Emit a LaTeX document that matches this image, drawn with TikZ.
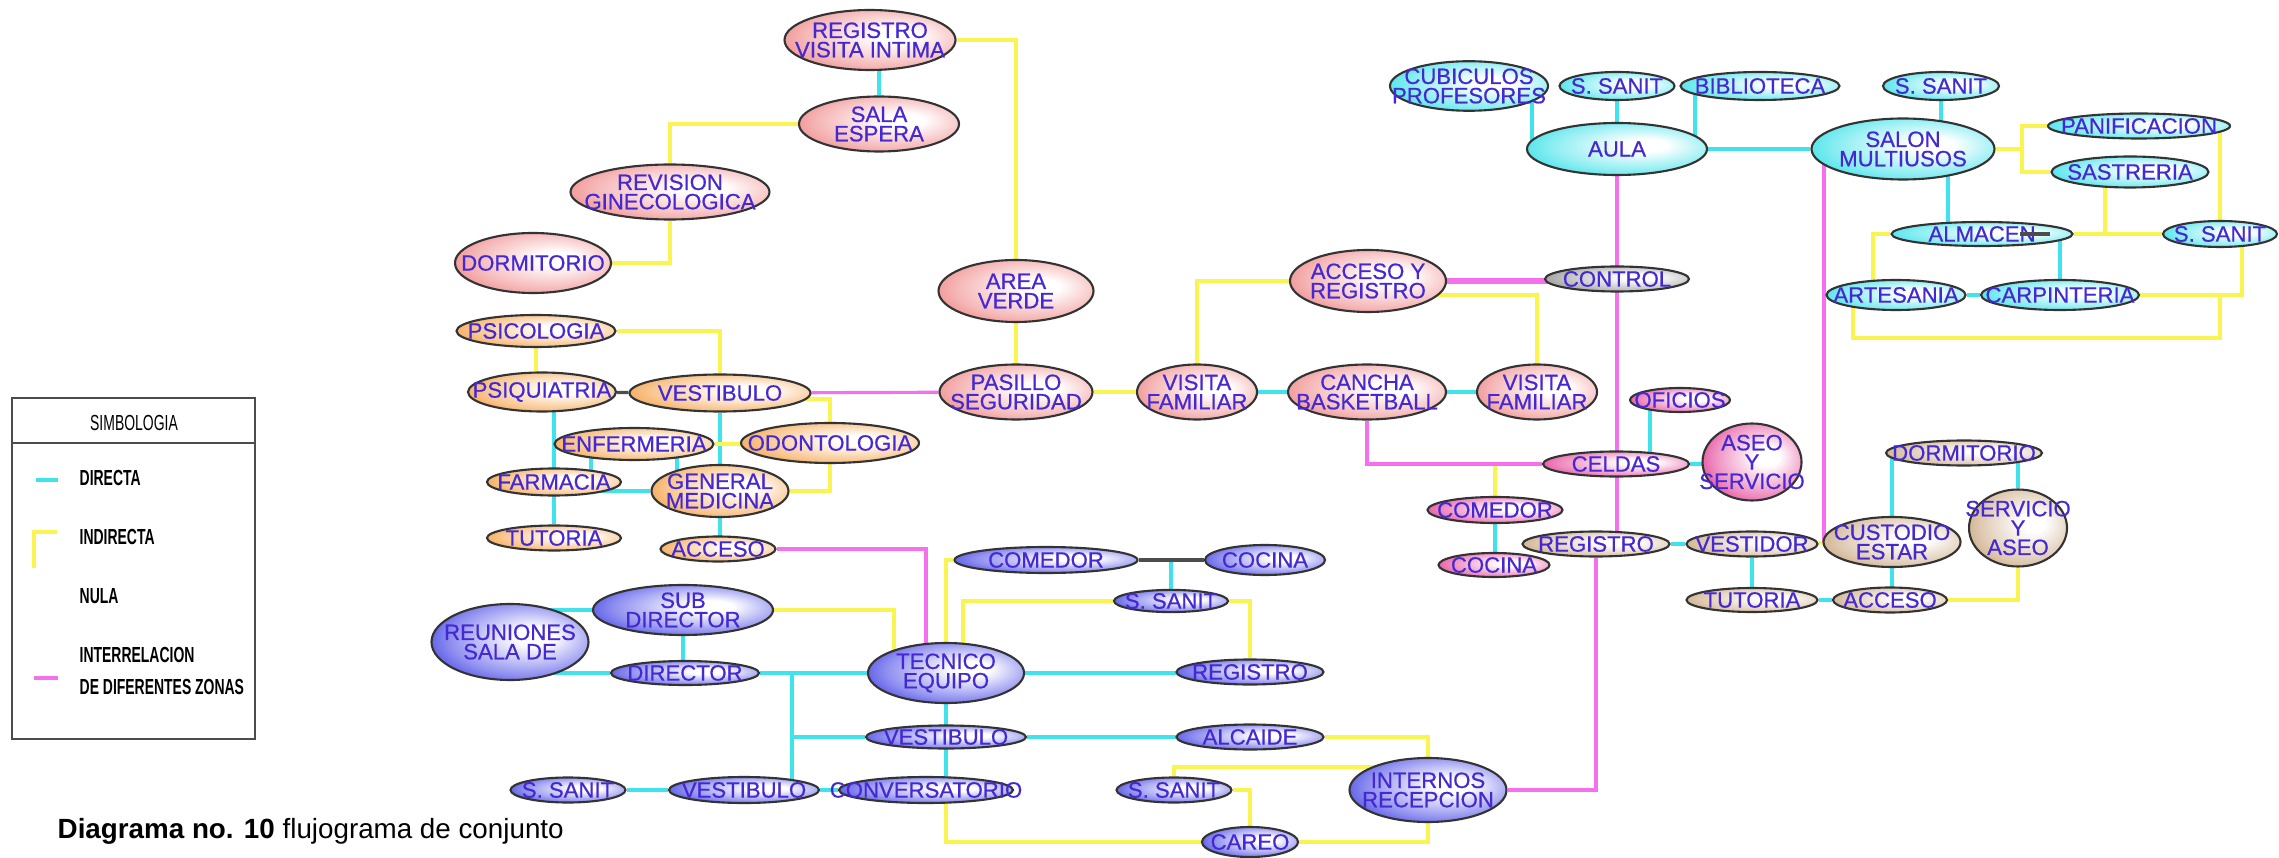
\documentclass[tikz,border=0pt]{standalone}
\usepackage{fontspec}
\setmainfont{Liberation Sans}
\newfontfamily\narrowfont{Liberation Sans}[FakeStretch=0.64]
\newfontfamily\nodefont{Liberation Sans}[FakeBold=0.6]
\usepackage{tikz}
\usetikzlibrary{shapes.geometric, backgrounds}
\definecolor{zonepink}{RGB}{236,110,110}
\definecolor{zoneorange}{RGB}{242,140,30}
\definecolor{zoneblue}{RGB}{30,30,225}
\definecolor{zonecyan}{RGB}{10,218,228}
\definecolor{zonemagenta}{RGB}{222,25,128}
\definecolor{zonetan}{RGB}{190,148,100}
\definecolor{zonegray}{RGB}{120,120,120}
\definecolor{labelblue}{RGB}{68,40,210}
\definecolor{directcyan}{RGB}{64,226,236}
\definecolor{indirectyellow}{RGB}{250,244,80}
\definecolor{intermagenta}{RGB}{244,112,236}

\newcommand\zoneshading[2]{\pgfdeclareradialshading{#1}{\pgfpoint{9bp}{4bp}}{color(0bp)=(white); color(6bp)=(white); color(24bp)=(#2!50); color(38bp)=(#2); color(50bp)=(#2)}}
\zoneshading{pinkshade}{zonepink}
\zoneshading{orangeshade}{zoneorange}
\zoneshading{blueshade}{zoneblue}
\zoneshading{cyanshade}{zonecyan}
\zoneshading{magentashade}{zonemagenta}
\zoneshading{tanshade}{zonetan}
\zoneshading{grayshade}{zonegray}

\newcommand\zw[1]{\makebox[0pt]{#1}}

\tikzset{
  zone/.style={ellipse, draw=black!80, line width=0.6pt, inner sep=0pt, text=labelblue, font=\nodefont\fontsize{6.3}{5.5}\selectfont, align=center},
  pinkz/.style={zone, shade, shading=pinkshade},
  orangez/.style={zone, shade, shading=orangeshade},
  bluez/.style={zone, shade, shading=blueshade},
  cyanz/.style={zone, shade, shading=cyanshade},
  magentaz/.style={zone, shade, shading=magentashade},
  tanz/.style={zone, shade, shading=tanshade},
  grayz/.style={zone, shade, shading=grayshade},
  sz/.style 2 args={minimum width=#1*0.01cm, minimum height=#2*0.01cm},
  direct/.style={draw=directcyan, line width=0.9pt},
  indirect/.style={draw=indirectyellow, line width=0.9pt},
  inter/.style={draw=intermagenta, line width=0.9pt},
  nula/.style={draw=black!70, line width=0.9pt},
  legendtext/.style={anchor=west, inner sep=0pt, font=\narrowfont\fontsize{6.2}{7}\selectfont\bfseries}
}

\begin{document}
\begin{tikzpicture}[x=0.01cm, y=-0.01cm]
    \useasboundingbox (0,0) rectangle (2279,858);
    % visitas
    \node[pinkz, sz={171}{60}] (rvi) at (870,40) {\zw{REGISTRO}\\\zw{VISITA INTIMA}};
    \node[pinkz, sz={160}{55}] (sesp) at (879,124) {\zw{SALA}\\\zw{ESPERA}};
    \node[pinkz, sz={199}{55}] (rgin) at (670,192) {\zw{REVISION}\\\zw{GINECOLOGICA}};
    \node[pinkz, sz={156}{60}] (dorm1) at (533,263) {\zw{DORMITORIO}};
    \node[pinkz, sz={155}{62}] (aver) at (1016,291) {\zw{AREA}\\\zw{VERDE}};
    \node[pinkz, sz={153}{55}] (pseg) at (1016,392) {\zw{PASILLO}\\\zw{SEGURIDAD}};
    \node[pinkz, sz={120}{55}] (vfam1) at (1197,392) {\zw{VISITA}\\\zw{FAMILIAR}};
    \node[pinkz, sz={158}{55}] (cancha) at (1367,392) {\zw{CANCHA}\\\zw{BASKETBALL}};
    \node[pinkz, sz={120}{55}] (vfam2) at (1537,392) {\zw{VISITA}\\\zw{FAMILIAR}};
    \node[pinkz, sz={156}{62}] (accreg) at (1368,281) {\zw{ACCESO Y}\\\zw{REGISTRO}};
    \node[grayz, sz={144}{25}] (control) at (1617,279) {\zw{CONTROL}};
    % salud
    \node[orangez, sz={159}{32}] (psico) at (536,331) {\zw{PSICOLOGIA}};
    \node[orangez, sz={148}{39}] (psiq) at (542,392) {\zw{PSIQUIATRIA}};
    \node[orangez, sz={181}{37}] (vest1) at (720,393) {\zw{VESTIBULO}};
    \node[orangez, sz={159}{32}] (enf) at (634,444) {\zw{ENFERMERIA}};
    \node[orangez, sz={178}{40}] (odon) at (830,443) {\zw{ODONTOLOGIA}};
    \node[orangez, sz={134}{27}] (farm) at (554,482) {\zw{FARMACIA}};
    \node[orangez, sz={137}{52}] (genmed) at (720,491) {\zw{GENERAL}\\\zw{MEDICINA}};
    \node[orangez, sz={134}{25}] (tut1) at (554,538) {\zw{TUTORIA}};
    \node[orangez, sz={115}{25}] (acc1) at (718,549) {\zw{ACCESO}};
    % administracion
    \node[bluez, sz={180}{50}] (subdir) at (683,610) {\zw{SUB}\\\zw{DIRECTOR}};
    \node[bluez, sz={157}{76}] (reun) at (510,642) {\zw{REUNIONES}\\\zw{SALA DE}};
    \node[bluez, sz={148}{24}] (dir) at (685,673) {\zw{DIRECTOR}};
    \node[bluez, sz={156}{60}] (tec) at (946,673) {\zw{TECNICO}\\\zw{EQUIPO}};
    \node[bluez, sz={160}{23}] (vest2) at (946,737) {\zw{VESTIBULO}};
    \node[bluez, sz={115}{25}] (ssan1) at (568,790) {\zw{S. SANIT}};
    \node[bluez, sz={150}{26}] (vest3) at (744,790) {\zw{VESTIBULO}};
    \node[bluez, sz={174}{26}] (conv) at (926,790) {\zw{CONVERSATORIO}};
    \node[bluez, sz={183}{26}] (comedor2) at (1046,560) {\zw{COMEDOR}};
    \node[bluez, sz={120}{30}] (cocina2) at (1265,560) {\zw{COCINA}};
    \node[bluez, sz={114}{22}] (ssan2) at (1171,601) {\zw{S. SANIT}};
    \node[bluez, sz={147}{25}] (reg2) at (1250,672) {\zw{REGISTRO}};
    \node[bluez, sz={147}{25}] (alc) at (1250,737) {\zw{ALCAIDE}};
    \node[bluez, sz={157}{64}] (intern) at (1428,790) {\zw{INTERNOS}\\\zw{RECEPCION}};
    \node[bluez, sz={115}{25}] (ssan3) at (1174,790) {\zw{S. SANIT}};
    \node[bluez, sz={96}{30}] (careo) at (1250,842) {\zw{CAREO}};
    % celdas
    \node[magentaz, sz={100}{24}] (ofic) at (1680,400) {\zw{OFICIOS}};
    \node[magentaz, sz={146}{25}] (celdas) at (1616,464) {\zw{CELDAS}};
    \node[magentaz, sz={99}{77}] (aseo) at (1752,462) {\zw{ASEO}\\\zw{Y}\\\zw{SERVICIO}};
    \node[magentaz, sz={135}{26}] (comedor3) at (1495,510) {\zw{COMEDOR}};
    \node[magentaz, sz={111}{24}] (cocina3) at (1494,565) {\zw{COCINA}};
    % custodia
    \node[tanz, sz={147}{25}] (reg3) at (1596,544) {\zw{REGISTRO}};
    \node[tanz, sz={131}{25}] (vestidor) at (1752,544) {\zw{VESTIDOR}};
    \node[tanz, sz={131}{24}] (tut3) at (1752,600) {\zw{TUTORIA}};
    \node[tanz, sz={114}{25}] (acc3) at (1890,600) {\zw{ACCESO}};
    \node[tanz, sz={137}{50}] (cust) at (1892,542) {\zw{CUSTODIO}\\\zw{ESTAR}};
    \node[tanz, sz={156}{25}] (dorm3) at (1964,453) {\zw{DORMITORIO}};
    \node[tanz, sz={98}{77}] (serv) at (2018,528) {\zw{SERVICIO}\\\zw{Y}\\\zw{ASEO}};
    % educacion y talleres
    \node[cyanz, sz={158}{45}] (cub) at (1469,86) {\zw{CUBICULOS}\\\zw{PROFESORES}};
    \node[cyanz, sz={115}{28}] (ssan4) at (1617,86) {\zw{S. SANIT}};
    \node[cyanz, sz={159}{28}] (bibl) at (1760,86) {\zw{BIBLIOTECA}};
    \node[cyanz, sz={116}{28}] (ssan5) at (1941,86) {\zw{S. SANIT}};
    \node[cyanz, sz={180}{52}] (aula) at (1617,149) {\zw{AULA}};
    \node[cyanz, sz={183}{61}] (salon) at (1903,149) {\zw{SALON}\\\zw{MULTIUSOS}};
    \node[cyanz, sz={182}{25}] (panif) at (2139,126) {\zw{PANIFICACION}};
    \node[cyanz, sz={157}{31}] (sast) at (2130,172) {\zw{SASTRERIA}};
    \node[cyanz, sz={181}{24}] (alm) at (1982,234) {\zw{ALMACEN}};
    \node[cyanz, sz={114}{26}] (ssan6) at (2220,234) {\zw{S. SANIT}};
    \node[cyanz, sz={139}{30}] (artes) at (1896,295) {\zw{ARTESANIA}};
    \node[cyanz, sz={158}{30}] (carp) at (2060,295) {\zw{CARPINTERIA}};
    \draw[nula] (alm) ++(38,0) -- ++(30,0);

    \begin{scope}[on background layer]
    % directa
    \draw[direct] (sesp) -- (sesp |- rvi);
    \draw[direct] (psiq -| tut1) -- (tut1);
    \draw[direct] (vest1) -- (vest1 |- genmed);
    \draw[direct] (genmed) -- (genmed -| farm);
    \draw[direct] (enf -| 591,0) -- (genmed -| 591,0);
    \draw[direct] (enf -| 677,0) -- (genmed -| 677,0);
    \draw[direct] (genmed) -- (genmed |- acc1);
    \draw[direct] (subdir) -- (subdir -| reun);
    \draw[direct] (subdir) -- (subdir |- dir);
    \draw[direct] (dir) -- (dir -| reun);
    \draw[direct] (dir) -- (dir -| tec);
    \draw[direct] (dir -| 792,0) -- (vest3 -| 792,0);
    \draw[direct] (vest2) -- (vest2 -| 792,0);
    \draw[direct] (ssan1) -- (vest3) -- (conv);
    \draw[direct] (tec) -- (tec |- conv);
    \draw[direct] (tec) -- (tec -| reg2);
    \draw[direct] (vest2) -- (vest2 -| alc);
    \draw[direct] (ssan2) -- (ssan2 |- comedor2);
    \draw[direct] (cancha) -- (vfam1);
    \draw[direct] (cancha) -- (vfam2);
    \draw[direct] (celdas -| 1650,0) -- (ofic -| 1650,0);
    \draw[direct] (celdas) -- (celdas -| aseo);
    \draw[direct] (comedor3) -- (comedor3 |- cocina3);
    \draw[direct] (reg3) -- (vestidor);
    \draw[direct] (vestidor) -- (tut3);
    \draw[direct] (tut3) -- (acc3);
    \draw[direct] (cust) -- (cust |- acc3);
    \draw[direct] (cust) -- (cust |- dorm3);
    \draw[direct] (serv) -- (serv |- dorm3);
    \draw[direct] (aula -| 1532,0) -- (cub -| 1532,0);
    \draw[direct] (ssan4) -- (aula);
    \draw[direct] (aula -| 1695,0) -- (bibl -| 1695,0);
    \draw[direct] (aula) -- (salon);
    \draw[direct] (ssan5) -- (ssan5 |- salon);
    \draw[direct] (salon -| 1948,0) -- (alm -| 1948,0);
    \draw[direct] (carp) -- (carp |- alm);
    \draw[direct] (artes) -- (carp);
    % indirecta
    \draw[indirect] (rvi) -| (aver);
    \draw[indirect] (sesp) -| (rgin);
    \draw[indirect] (rgin) |- (dorm1);
    \draw[indirect] (aver) -- (pseg);
    \draw[indirect] (pseg) -- (vfam1);
    \draw[indirect] (accreg) -| (vfam1);
    \draw[indirect] (accreg |- 0,295) -| (vfam2);
    \draw[indirect] (psico) -| (vest1);
    \draw[indirect] (psico) -- (psico |- psiq);
    \draw[indirect] (vest1 |- 0,399) -| (odon);
    \draw[indirect] (enf) -- (enf -| odon);
    \draw[indirect] (odon) |- (genmed);
    \draw[indirect] (subdir) -| (tec -| 894,0);
    \draw[indirect] (comedor2) -| (tec);
    \draw[indirect] (ssan2) -| (tec -| 963,0);
    \draw[indirect] (ssan2) -| (reg2);
    \draw[indirect] (alc) -| (intern);
    \draw[indirect] (ssan3) |- (intern |- 0,767);
    \draw[indirect] (ssan3) -| (careo);
    \draw[indirect] (careo) -| (conv -| tec);
    \draw[indirect] (careo) -| (intern);
    \draw[indirect] (comedor3) |- (celdas);
    \draw[indirect] (vestidor) -- (cust);
    \draw[indirect] (serv) |- (acc3);
    \draw[indirect] (salon) -- (salon -| 2022,0) |- (panif);
    \draw[indirect] (salon -| 2022,0) |- (sast);
    \draw[indirect] (sast -| 2105,0) -- (alm -| 2105,0);
    \draw[indirect] (alm) -- (ssan6);
    \draw[indirect] (panif -| ssan6) -- (ssan6);
    \draw[indirect] (alm) -| (artes -| 1873,0);
    \draw[indirect] (carp) -| (ssan6 -| 2242,0);
    \draw[indirect] (artes -| 1853,0) -- ++(0,43) -| (carp -| ssan6);
    % interrelacion
    \draw[inter] (vest1) -- (pseg);
    \draw[inter] (acc1) -| (tec -| 926,0);
    \draw[inter, line width=1.6pt] (accreg) -- (accreg -| control);
    \draw[inter] (cancha) |- (celdas);
    \draw[inter] (aula) -- (aula |- reg3);
    \draw[inter] (reg3) |- (intern);
    \draw[inter] (salon -| 1824,0) -- (cust -| 1824,0);
    % nula
    \draw[nula] (psiq) -- (vest1);
    \draw[nula] (comedor2) -- (cocina2);
    \end{scope}

    % simbologia
    \draw[black!70, line width=0.6pt] (12,398) rectangle (255,739);
    \draw[black!70, line width=0.6pt] (12,443) -- (255,443);
    \node[inner sep=0pt, font=\narrowfont\fontsize{6.2}{7}\selectfont] (simb) at (134,423) {SIMBOLOGIA};
    \draw[direct] (36,480) -- (58,480);
    \node[legendtext] (ldir) at (79,478) {DIRECTA};
    \draw[indirect] (34,568) -- (34,532) -- (57,532);
    \node[legendtext] (lind) at (79,537) {INDIRECTA};
    \node[legendtext] (lnul) at (79,596) {NULA};
    \draw[inter] (34,678) -- (58,678);
    \node[legendtext, align=left] (lint) at (79,671) {INTERRELACION\\[2pt]DE DIFERENTES ZONAS};
    \node[anchor=base west, inner sep=0pt, font=\fontsize{7.9}{9}\selectfont] (caption) at (57,838) {\textbf{Diagrama no. 10} flujograma de conjunto};
\end{tikzpicture}
\end{document}
